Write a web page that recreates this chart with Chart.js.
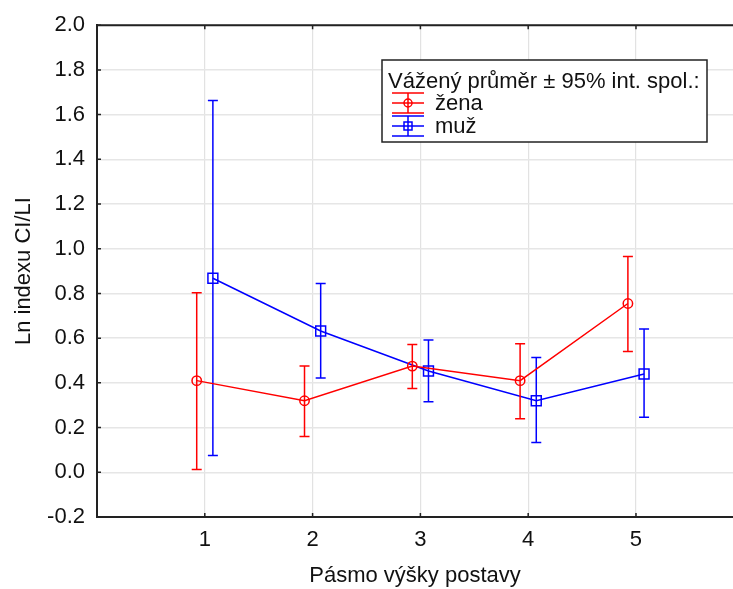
<!DOCTYPE html>
<html><head><meta charset="utf-8">
<script src="https://cdn.jsdelivr.net/npm/chart.js@4/dist/chart.umd.min.js"></script>
<style>html,body{margin:0;padding:0;background:#fff;overflow:hidden}canvas{display:block}</style>
</head><body><canvas id="c" width="733" height="589"></canvas>
<script>
// ---- data ----
const categories = [1, 2, 3, 4, 5];
const seriesNames = ['žena', 'muž'];
const zenaMean = [0.41, 0.32, 0.475, 0.41, 0.755];
const zenaLow  = [0.012, 0.16, 0.375, 0.24, 0.54];
const zenaHigh = [0.803, 0.476, 0.572, 0.575, 0.965];
const muzMean  = [0.868, 0.632, 0.453, 0.32, 0.44];
const muzLow   = [0.075, 0.422, 0.316, 0.133, 0.246];
const muzHigh  = [1.663, 0.844, 0.592, 0.513, 0.641];
const yTickValues = [-0.2, 0, 0.2, 0.4, 0.6, 0.8, 1.0, 1.2, 1.4, 1.6, 1.8, 2.0];
const xTickValues = [1, 2, 3, 4, 5];
const legendTitle = 'Vážený průměr ± 95% int. spol.:';
const xTitle = 'Pásmo výšky postavy';
const yTitle = 'Ln indexu CI/LI';

// ---- styling ----
const FONT = "'Liberation Sans', Arial, sans-serif";
const FS = 22;
const DODGE = 0.075;
const RED = '#ff0000', BLUE = '#0000ff', DARK = '#222222';

function pts(mean, shift) { return categories.map((c, i) => ({ x: c + shift, y: mean[i] })); }

const errorBars = {
  id: 'errorBars',
  beforeDatasetDraw(chart, args) {
    const ds = chart.data.datasets[args.index];
    const meta = args.meta;
    const y = chart.scales.y;
    const ctx = chart.ctx;
    ctx.save();
    ctx.strokeStyle = ds.borderColor;
    ctx.lineWidth = 1.5;
    meta.data.forEach((p, i) => {
      const yl = y.getPixelForValue(ds.errLow[i]);
      const yh = y.getPixelForValue(ds.errHigh[i]);
      const x = p.x;
      ctx.beginPath();
      ctx.moveTo(x, yl); ctx.lineTo(x, yh);
      ctx.moveTo(x - 5, yl); ctx.lineTo(x + 5, yl);
      ctx.moveTo(x - 5, yh); ctx.lineTo(x + 5, yh);
      ctx.stroke();
    });
    ctx.restore();
  }
};

const frame = {
  id: 'frame',
  afterDraw(chart) {
    const {ctx, chartArea: a, scales} = chart;
    ctx.save();
    ctx.strokeStyle = DARK;
    ctx.lineWidth = 2;
    ctx.beginPath();
    ctx.moveTo(a.left - 1, a.top); ctx.lineTo(a.right, a.top);
    ctx.stroke();
    ctx.lineWidth = 1.5;
    ctx.beginPath();
    yTickValues.forEach(v => { const py = scales.y.getPixelForValue(v); ctx.moveTo(a.left, py); ctx.lineTo(a.left + 4, py); });
    xTickValues.forEach(v => { const px = scales.x.getPixelForValue(v);
      ctx.moveTo(px, a.bottom); ctx.lineTo(px, a.bottom - 4);
      ctx.moveTo(px, a.top); ctx.lineTo(px, a.top + 4); });
    ctx.stroke();

    // legend
    const L = a.right - 351, T = 60, W = 325, H = 82;
    ctx.fillStyle = '#fff';
    ctx.fillRect(L, T, W, H);
    ctx.strokeStyle = DARK; ctx.lineWidth = 1.5;
    ctx.strokeRect(L, T, W, H);
    ctx.fillStyle = '#111';
    ctx.font = FS + 'px ' + FONT;
    ctx.textBaseline = 'middle'; ctx.textAlign = 'left';
    ctx.fillText(legendTitle, L + 6, T + 22);
    chart.data.datasets.forEach((ds, i) => {
      const cy = T + 43 + i * 23;
      const cx = L + 26;
      ctx.strokeStyle = ds.borderColor; ctx.lineWidth = 1.5;
      ctx.beginPath();
      ctx.moveTo(cx - 16, cy - 10); ctx.lineTo(cx + 16, cy - 10);
      ctx.moveTo(cx - 16, cy); ctx.lineTo(cx + 16, cy);
      ctx.moveTo(cx - 16, cy + 10); ctx.lineTo(cx + 16, cy + 10);
      ctx.moveTo(cx, cy - 10); ctx.lineTo(cx, cy + 10);
      ctx.stroke();
      ctx.beginPath();
      if (ds.pointStyle === 'circle') ctx.arc(cx, cy, 4, 0, Math.PI * 2);
      else ctx.rect(cx - 4, cy - 4, 8, 8);
      ctx.stroke();
      ctx.fillStyle = '#111';
      ctx.fillText(ds.label, L + 53, cy + 1);
    });
    ctx.restore();
  }
};

new Chart(document.getElementById('c'), {
  type: 'line',
  data: {
    datasets: [
      { label: seriesNames[0], data: pts(zenaMean, -DODGE), errLow: zenaLow, errHigh: zenaHigh,
        borderColor: RED, backgroundColor: 'rgba(0,0,0,0)', borderWidth: 1.5,
        pointStyle: 'circle', pointRadius: 4.7, pointBorderWidth: 1.5, pointBackgroundColor: 'rgba(0,0,0,0)' },
      { label: seriesNames[1], data: pts(muzMean, DODGE), errLow: muzLow, errHigh: muzHigh,
        borderColor: BLUE, backgroundColor: 'rgba(0,0,0,0)', borderWidth: 1.5,
        pointStyle: 'rect', pointRadius: 7, pointBorderWidth: 1.5, pointBackgroundColor: 'rgba(0,0,0,0)' }
    ]
  },
  options: {
    responsive: false, animation: false,
    layout: { autoPadding: false, padding: { top: 22, right: 0, bottom: 0, left: 0 } },
    plugins: { legend: { display: false }, tooltip: { enabled: false } },
    scales: {
      x: {
        type: 'linear', min: 0, max: 5.9,
        afterBuildTicks: s => { s.ticks = xTickValues.map(v => ({ value: v })); },
        afterFit: s => { s.height = 72; s.paddingRight = 0; s.paddingLeft = 0; },
        ticks: { color: '#111', font: { family: FONT, size: FS }, padding: 10, callback: v => String(v), maxRotation: 0 },
        grid: { color: '#e2e2e2', lineWidth: 1.2, drawTicks: false },
        border: { display: true, color: DARK, width: 2 },
        title: { display: true, text: xTitle, color: '#111', font: { family: FONT, size: FS }, padding: { top: 0, bottom: 0 } }
      },
      y: {
        type: 'linear', min: -0.2, max: 2.0,
        afterBuildTicks: s => { s.ticks = yTickValues.map(v => ({ value: v })); },
        afterFit: s => { s.width = 97; },
        ticks: { color: '#111', font: { family: FONT, size: FS }, padding: 12, callback: v => v.toFixed(1) },
        grid: { color: '#e6e6e6', lineWidth: 1.5, drawTicks: false },
        border: { display: true, color: DARK, width: 2 },
        title: { display: true, text: yTitle, color: '#111', font: { family: FONT, size: FS }, padding: { top: 11, bottom: 0 } }
      }
    }
  },
  plugins: [errorBars, frame]
});
</script></body></html>
